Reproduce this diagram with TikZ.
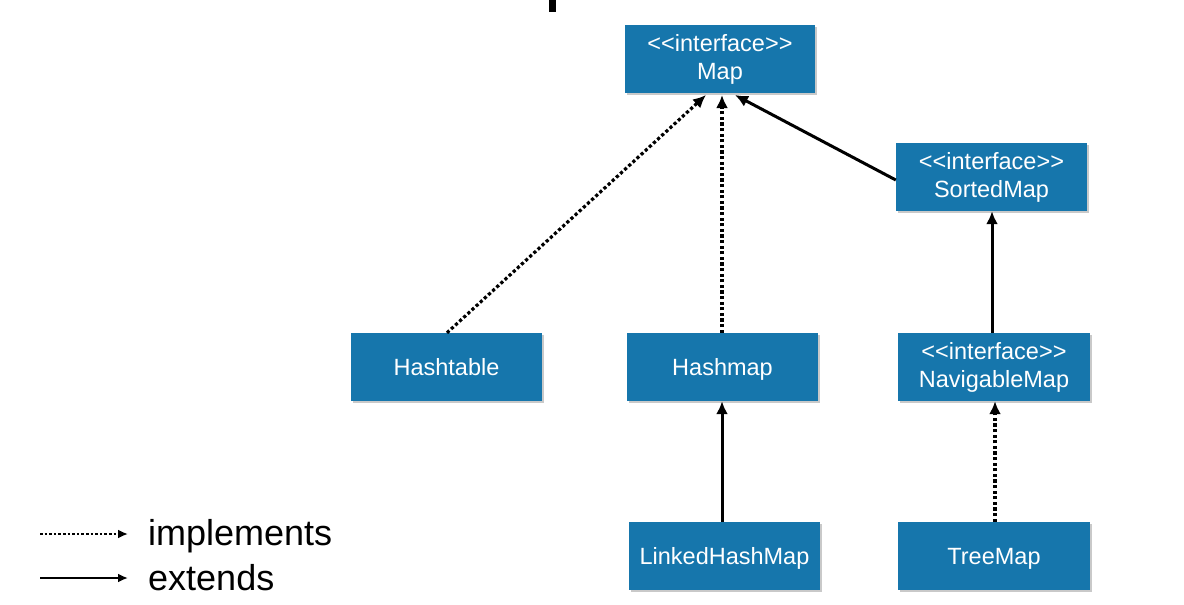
\documentclass[tikz,border=0pt]{standalone}
\usepackage{fontspec}
\setmainfont{Liberation Sans}
\usetikzlibrary{arrows.meta,shadows}
\definecolor{boxblue}{RGB}{22,118,172}
\newcommand{\iface}{<{}<interface>{}>}
\tikzset{
  clsbase/.style={draw=none, fill=boxblue, text=white, minimum width=190pt, minimum height=68pt,
    inner sep=0pt, font=\fontsize{23.5}{28}\selectfont,
    drop shadow={shadow xshift=1.5pt, shadow yshift=-1.5pt, fill=black!35, opacity=0.6}},
  cls/.style={clsbase, align=center},
  single/.style={clsbase, text height=17pt, text depth=0pt},
  impl/.style={line width=3.2pt, dash pattern=on 3.2pt off 2.4pt, -{Latex[length=13pt,width=12pt]}},
  ext/.style={line width=3pt, -{Latex[length=13pt,width=12pt]}},
  legimpl/.style={line width=2.6pt, dash pattern=on 2.6pt off 2pt, -{Latex[length=10pt,width=9pt]}},
  legext/.style={line width=2.6pt, -{Latex[length=10pt,width=9pt]}},
  legtext/.style={anchor=base west, inner sep=0pt, font=\fontsize{36}{40}\selectfont}
}
\begin{document}
\begin{tikzpicture}[x=1pt,y=-1pt]
\useasboundingbox (0,0) rectangle (1184,605);
\fill[white] (0,0) rectangle (1184,605);
% cut-off mark at top
\fill[black] (549,0) rectangle (556,12);

\node[cls] (map) at (720,59) {\iface\\Map};
\node[cls, minimum width=191pt] (sorted) at (991.5,177) {\iface\\SortedMap};
\node[single, minimum width=191pt] (hashtable) at (446.5,367) {Hashtable};
\node[single, minimum width=191pt] (hashmap) at (722.5,367) {Hashmap};
\node[cls, minimum width=192pt] (navigable) at (994,367) {\iface\\NavigableMap};
\node[single, minimum width=191pt] (linked) at (724.5,556) {LinkedHashMap};
\node[single, minimum width=192pt] (treemap) at (994,556) {TreeMap};

\draw[impl] (hashtable.north -| 447,0) -- (706,95);
\draw[impl] (hashmap.north -| 722,0) -- (722,95);
\draw[ext] (sorted.west |- 0,180) -- (735,95);
\draw[ext] (navigable.north -| 992,0) -- (sorted.south -| 992,0);
\draw[ext] (linked.north -| 722,0) -- (hashmap.south -| 722,0);
\draw[impl] (treemap.north -| 995,0) -- (navigable.south -| 995,0);

% legend
\coordinate (li1) at (40,534);
\coordinate (li2) at (128,534);
\coordinate (le1) at (40,578);
\coordinate (le2) at (128,578);
\draw[legimpl] (li1) -- (li2);
\draw[legext] (le1) -- (le2);
\node[legtext] (limpl) at (148,545) {implements};
\node[legtext] (lext) at (148,590) {extends};
\end{tikzpicture}
\end{document}
